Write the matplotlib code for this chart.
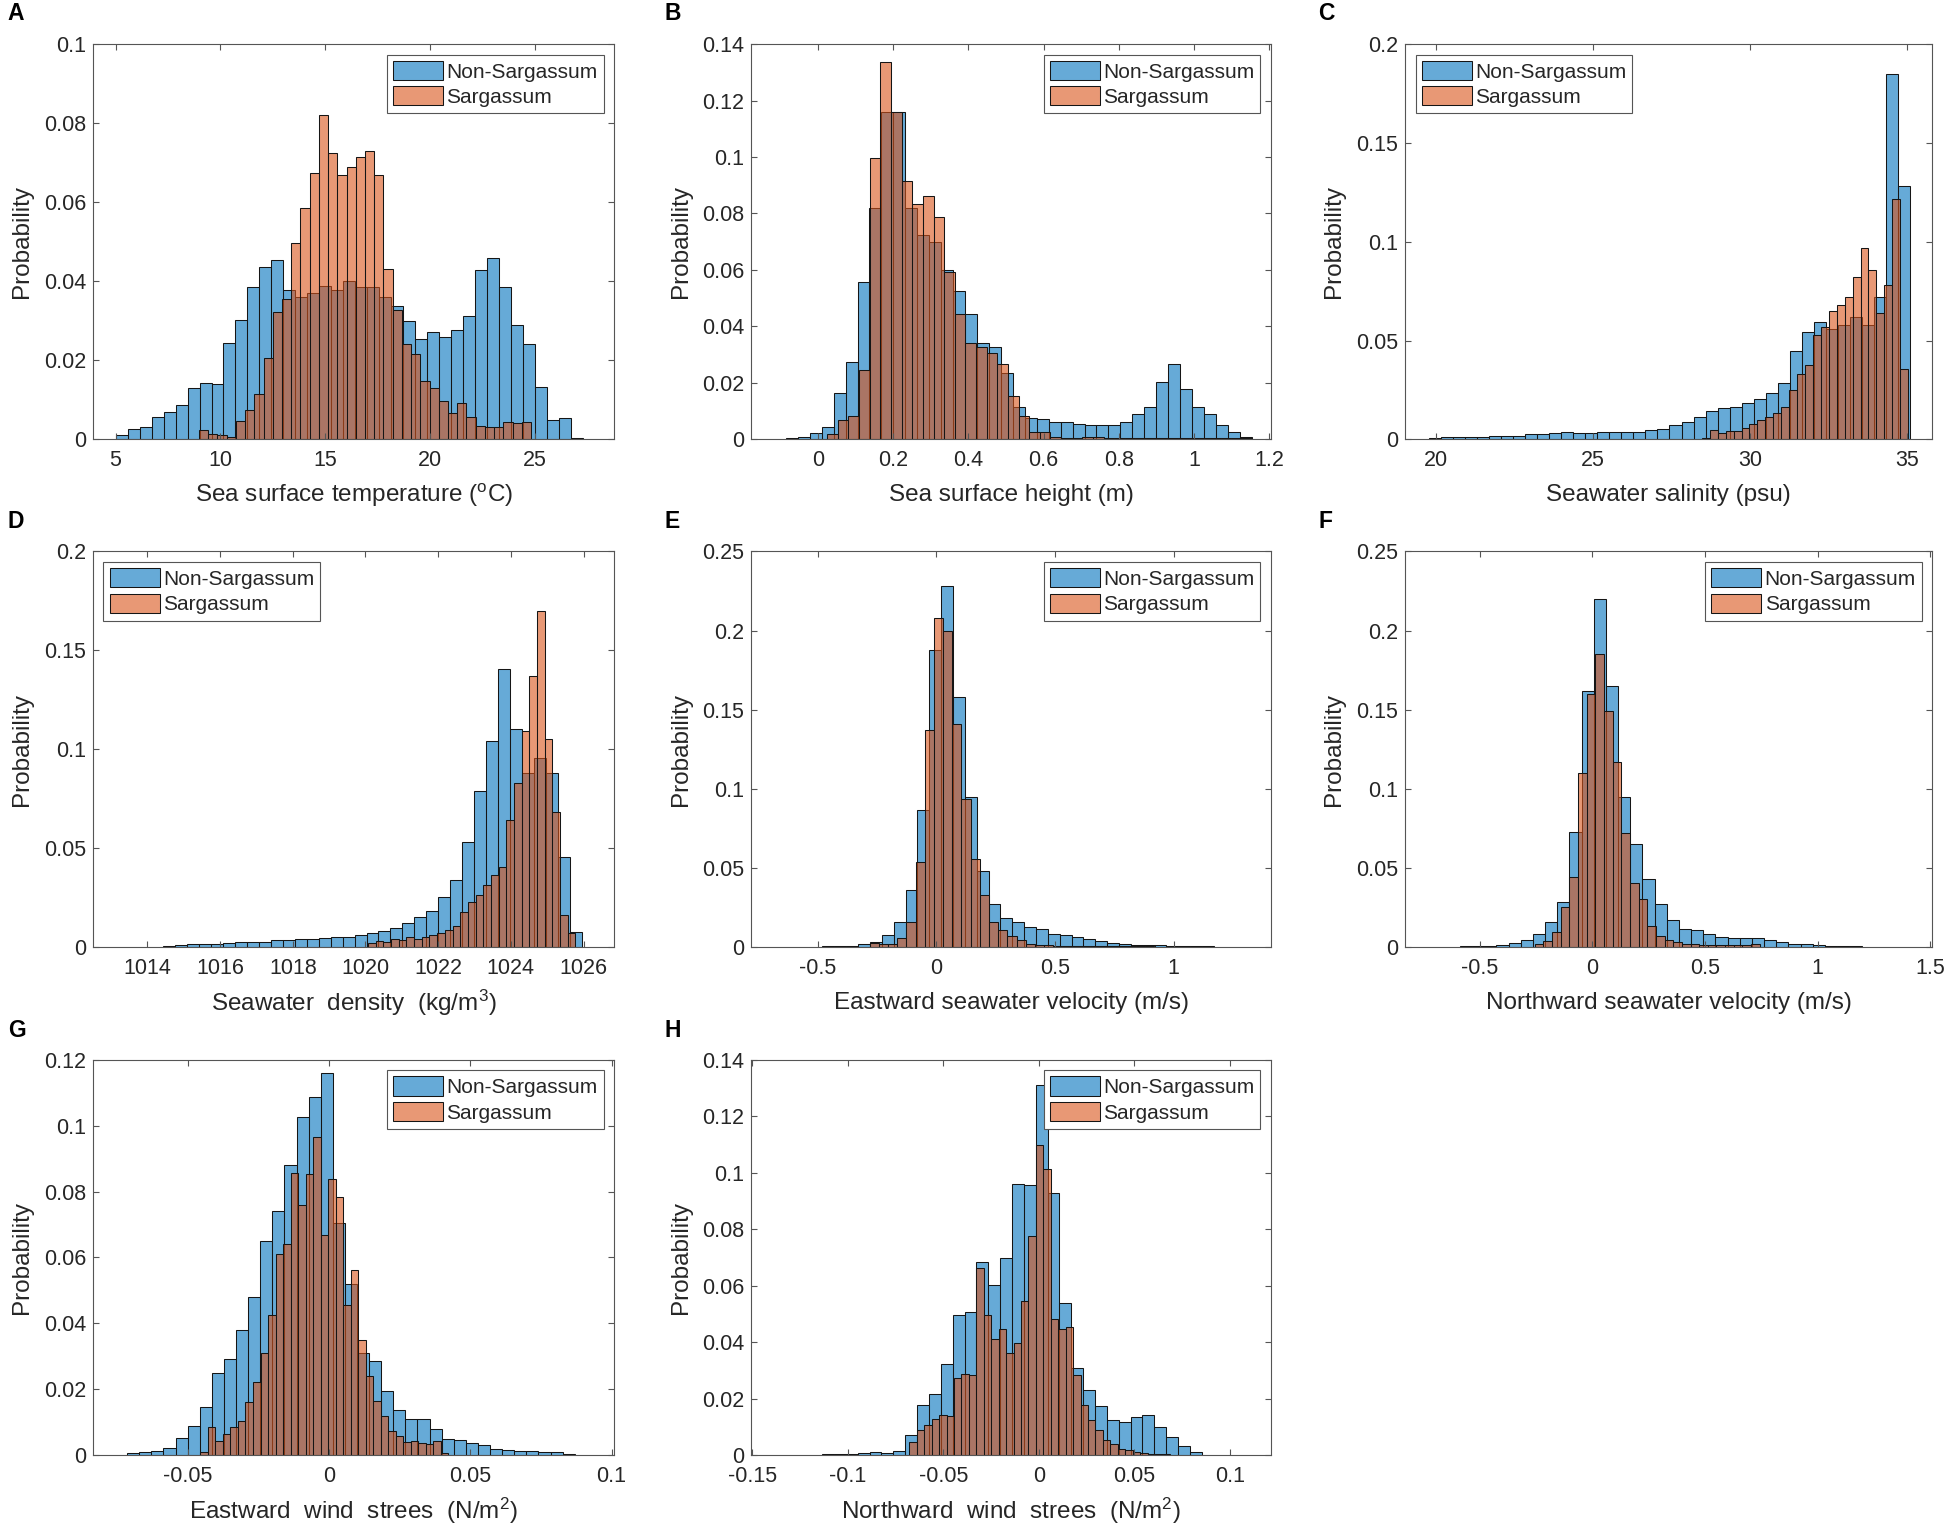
import numpy as np
import matplotlib.pyplot as plt
from matplotlib.ticker import FuncFormatter

plt.rcParams['font.family'] = ['Liberation Sans', 'DejaVu Sans']
plt.rcParams['mathtext.default'] = 'regular'

# ---- data: first bin edge, bin width, probability per bin ----
# A  sea surface temperature
sst_non_start, sst_non_width = 5.0, 0.572
sst_non = [0.001, 0.0025, 0.003, 0.0057, 0.007, 0.0087, 0.013, 0.0143, 0.014, 0.0243,
           0.0303, 0.0386, 0.0436, 0.0453, 0.0379, 0.036, 0.037, 0.0387, 0.0377, 0.040,
           0.0386, 0.0386, 0.036, 0.0337, 0.030, 0.0253, 0.0271, 0.0258, 0.0276, 0.0312,
           0.0428, 0.046, 0.0386, 0.029, 0.024, 0.0133, 0.005, 0.0054, 0.0003]
sst_sar_start, sst_sar_width = 8.98, 0.44
sst_sar = [0.0024, 0.0013, 0.0011, 0.0006, 0.0046, 0.0074, 0.0115, 0.0205, 0.0323, 0.0354,
           0.0497, 0.0586, 0.0674, 0.082, 0.0724, 0.067, 0.069, 0.0714, 0.073, 0.067,
           0.043, 0.0327, 0.024, 0.0217, 0.0148, 0.013, 0.0098, 0.0067, 0.0093, 0.0056,
           0.0034, 0.003, 0.0032, 0.0044, 0.0042, 0.0044]

# B  sea surface height
ssh_non_start, ssh_non_width = -0.086, 0.0318
ssh_non = [0.0004, 0.001, 0.0024, 0.0042, 0.0165, 0.0275, 0.0556, 0.0818, 0.116, 0.116,
           0.0818, 0.0724, 0.070, 0.060, 0.0527, 0.0443, 0.034, 0.0326, 0.0234, 0.0116,
           0.0074, 0.0071, 0.006, 0.006, 0.0053, 0.005, 0.005, 0.005, 0.006, 0.0089,
           0.0116, 0.0202, 0.0267, 0.018, 0.0116, 0.0089, 0.005, 0.0026, 0.0007]
ssh_sar_start, ssh_sar_width = 0.024, 0.0283
ssh_sar = [0.0018, 0.007, 0.0083, 0.0245, 0.0995, 0.1335, 0.116, 0.0916, 0.0833, 0.0863,
           0.0789, 0.0594, 0.0443, 0.0342, 0.0328, 0.0305, 0.0266, 0.0153, 0.0083, 0.0027,
           0.0025, 0.0008, 0.0005, 0.0005, 0.001, 0.0008, 0.0005, 0.0005, 0.0005, 0.0005,
           0.0005, 0.0005, 0.0005, 0.0005, 0.0005, 0.0005, 0.0005, 0.0005, 0.0005, 0.0003]

# C  seawater salinity
sal_non_start, sal_non_width = 19.77, 0.383
sal_non = [0.0008, 0.0012, 0.0012, 0.0012, 0.0012, 0.0017, 0.0017, 0.0017, 0.0025, 0.0025,
           0.003, 0.0035, 0.003, 0.003, 0.0035, 0.0035, 0.0035, 0.0035, 0.0047, 0.0052,
           0.0072, 0.0087, 0.0113, 0.0145, 0.0157, 0.0162, 0.0183, 0.0203, 0.0232, 0.0283,
           0.0445, 0.0545, 0.0592, 0.056, 0.058, 0.062, 0.058, 0.072, 0.185, 0.128]
sal_sar_start, sal_sar_width = 28.46, 0.2525
sal_sar = [0.0005, 0.0047, 0.003, 0.004, 0.004, 0.0055, 0.008, 0.010, 0.0115, 0.0135,
           0.0165, 0.025, 0.033, 0.0376, 0.053, 0.057, 0.065, 0.068, 0.072, 0.082,
           0.0966, 0.0855, 0.064, 0.078, 0.1215, 0.0354]

# D  seawater density
den_non_start, den_non_width = 1014.44, 0.3287
den_non = [0.0003, 0.0007, 0.0012, 0.0014, 0.0014, 0.0017, 0.0022, 0.0025, 0.0025, 0.0034,
           0.0034, 0.0037, 0.004, 0.0042, 0.0047, 0.0047, 0.006, 0.0068, 0.0081, 0.0093,
           0.0122, 0.0152, 0.018, 0.025, 0.034, 0.053, 0.079, 0.104, 0.1405, 0.11,
           0.088, 0.0955, 0.088, 0.0455, 0.0075]
den_sar_start, den_sar_width = 1020.07, 0.2113
den_sar = [0.0017, 0.003, 0.0025, 0.0038, 0.0035, 0.005, 0.004, 0.005, 0.006, 0.007,
           0.0085, 0.0105, 0.0175, 0.0225, 0.026, 0.031, 0.0365, 0.0405, 0.064, 0.083,
           0.109, 0.137, 0.17, 0.105, 0.068, 0.016, 0.007]

# E  eastward seawater velocity
u_non_start, u_non_width = -0.48, 0.05
u_non = [0.0004, 0.0006, 0.0006, 0.0015, 0.0032, 0.0074, 0.0158, 0.036, 0.0866, 0.188,
         0.228, 0.158, 0.0945, 0.048, 0.027, 0.0183, 0.0158, 0.0122, 0.011, 0.008,
         0.0074, 0.0063, 0.0046, 0.0034, 0.0023, 0.0017, 0.0013, 0.001, 0.0008, 0.0006,
         0.0004, 0.0004, 0.0002]
u_sar_start, u_sar_width = -0.281, 0.0387
u_sar = [0.0025, 0.002, 0.0015, 0.0053, 0.0158, 0.0533, 0.137, 0.208, 0.2, 0.141,
         0.0935, 0.0555, 0.0325, 0.0158, 0.0105, 0.0068, 0.004, 0.0017, 0.0012, 0.0008,
         0.0006, 0.0004, 0.0004, 0.0004, 0.0004, 0.0004, 0.0004, 0.0004, 0.0004, 0.0004,
         0.0004]

# F  northward seawater velocity
v_non_start, v_non_width = -0.587, 0.054
v_non = [0.0003, 0.0004, 0.0006, 0.001, 0.0022, 0.004, 0.008, 0.0155, 0.0285, 0.0725,
         0.162, 0.22, 0.165, 0.0946, 0.065, 0.043, 0.027, 0.0167, 0.011, 0.0104,
         0.008, 0.0063, 0.0058, 0.0054, 0.0054, 0.004, 0.0027, 0.002, 0.0017, 0.0008,
         0.0006, 0.0004, 0.0003]
v_sar_start, v_sar_width = -0.255, 0.0384
v_sar = [0.002, 0.0035, 0.0095, 0.025, 0.044, 0.11, 0.16, 0.185, 0.149, 0.117,
         0.072, 0.040, 0.030, 0.013, 0.007, 0.004, 0.003, 0.002, 0.0015, 0.0012,
         0.001, 0.001, 0.001, 0.0008, 0.0008, 0.0015]

# G  eastward wind stress
tx_non_start, tx_non_width = -0.0714, 0.00428
tx_non = [0.0005, 0.0008, 0.0012, 0.0022, 0.0053, 0.0088, 0.0145, 0.025, 0.0292, 0.038,
          0.048, 0.065, 0.074, 0.088, 0.1025, 0.1088, 0.116, 0.0705, 0.052, 0.031,
          0.0285, 0.0195, 0.0138, 0.0108, 0.011, 0.0078, 0.005, 0.0047, 0.0038, 0.003,
          0.0017, 0.0015, 0.0013, 0.0012, 0.001, 0.0008, 0.0003]
tx_sar_start, tx_sar_width = -0.0455, 0.00266
tx_sar = [0.0008, 0.0086, 0.0043, 0.0064, 0.0084, 0.0103, 0.016, 0.0222, 0.0311, 0.0424,
          0.0611, 0.064, 0.0857, 0.0758, 0.0852, 0.0965, 0.0667, 0.0838, 0.0783, 0.0455,
          0.0562, 0.0348, 0.0239, 0.0164, 0.0119, 0.0074, 0.0059, 0.004, 0.0044, 0.0038,
          0.0033, 0.0043, 0.0005]

# H  northward wind stress
ty_non_start, ty_non_width = -0.1134, 0.00621
ty_non = [0.0003, 0.0004, 0.0005, 0.0008, 0.001, 0.0008, 0.0015, 0.007, 0.0178, 0.0215,
          0.0322, 0.0497, 0.0508, 0.0683, 0.0602, 0.0698, 0.096, 0.0955, 0.1312, 0.0928,
          0.0538, 0.0307, 0.0232, 0.0172, 0.0123, 0.0118, 0.0136, 0.0143, 0.01, 0.0063,
          0.0033, 0.001]
ty_sar_start, ty_sar_width = -0.0678, 0.0039
ty_sar = [0.0045, 0.009, 0.0105, 0.0128, 0.0143, 0.0138, 0.0273, 0.0288, 0.0283, 0.0662,
          0.0497, 0.0412, 0.0448, 0.0363, 0.0397, 0.0545, 0.0775, 0.11, 0.1013, 0.0482,
          0.0448, 0.0452, 0.0285, 0.0178, 0.0123, 0.0088, 0.0052, 0.0038, 0.0023, 0.0018,
          0.001, 0.0006, 0.0004, 0.0004, 0.0003]

panels = [
    ('A', (sst_non_start, sst_non_width, sst_non), (sst_sar_start, sst_sar_width, sst_sar),
     'Sea surface temperature ($^{o}$C)', (3.92, 28.8), [5, 10, 15, 20, 25], 0.1, 0.02, 'upper right'),
    ('B', (ssh_non_start, ssh_non_width, ssh_non), (ssh_sar_start, ssh_sar_width, ssh_sar),
     'Sea surface height (m)', (-0.178, 1.205), [0, 0.2, 0.4, 0.6, 0.8, 1, 1.2], 0.14, 0.02, 'upper right'),
    ('C', (sal_non_start, sal_non_width, sal_non), (sal_sar_start, sal_sar_width, sal_sar),
     'Seawater salinity (psu)', (19.02, 35.8), [20, 25, 30, 35], 0.2, 0.05, 'upper left'),
    ('D', (den_non_start, den_non_width, den_non), (den_sar_start, den_sar_width, den_sar),
     'Seawater  density  (kg/m$^3$)', (1012.5, 1026.85), [1014, 1016, 1018, 1020, 1022, 1024, 1026], 0.2, 0.05, 'upper left'),
    ('E', (u_non_start, u_non_width, u_non), (u_sar_start, u_sar_width, u_sar),
     'Eastward seawater velocity (m/s)', (-0.78, 1.41), [-0.5, 0, 0.5, 1], 0.25, 0.05, 'upper right'),
    ('F', (v_non_start, v_non_width, v_non), (v_sar_start, v_sar_width, v_sar),
     'Northward seawater velocity (m/s)', (-0.83, 1.51), [-0.5, 0, 0.5, 1, 1.5], 0.25, 0.05, 'upper right'),
    ('G', (tx_non_start, tx_non_width, tx_non), (tx_sar_start, tx_sar_width, tx_sar),
     'Eastward  wind  strees  (N/m$^2$)', (-0.0835, 0.101), [-0.05, 0, 0.05, 0.1], 0.12, 0.02, 'upper right'),
    ('H', (ty_non_start, ty_non_width, ty_non), (ty_sar_start, ty_sar_width, ty_sar),
     'Northward  wind  strees  (N/m$^2$)', (-0.1505, 0.1215), [-0.15, -0.1, -0.05, 0, 0.05, 0.1], 0.14, 0.02, 'upper right'),
]

blue = (0.0, 0.447, 0.741, 0.6)
orange = (0.85, 0.325, 0.098, 0.6)
axis_grey = '#555555'
text_grey = '#262626'

col_left = [0.0476, 0.3847, 0.7195]
col_width = [0.267, 0.266, 0.270]
row_bottom = [0.7121, 0.3796, 0.0465]
row_height = 0.259
letter_x = [0.004, 0.340, 0.675]
letter_y = [0.991, 0.658, 0.325]

fig = plt.figure(figsize=(19.53, 15.26), dpi=100)
fmt = FuncFormatter(lambda v, p: f'{v:g}')

for i, (letter, non, sar, xlabel, xlim, xticks, ymax, ystep, loc) in enumerate(panels):
    r, c = divmod(i, 3)
    ax = fig.add_axes([col_left[c], row_bottom[r], col_width[c], row_height])
    for (start, width, vals), color, label in [(non, blue, 'Non-Sargassum'), (sar, orange, 'Sargassum')]:
        edges = start + width * np.arange(len(vals) + 1)
        ax.bar(edges[:-1], vals, width=np.diff(edges), align='edge', color=color,
               edgecolor='#151515', linewidth=0.75, label=label)
    ax.set_xlim(*xlim)
    ax.set_ylim(0, ymax)
    ax.set_xticks(xticks)
    ax.set_yticks(np.arange(0, ymax + ystep / 2, ystep))
    ax.xaxis.set_major_formatter(fmt)
    ax.yaxis.set_major_formatter(fmt)
    ax.tick_params(direction='in', top=True, right=True, length=4, width=0.8,
                   labelsize=15.5, colors=axis_grey, labelcolor=text_grey)
    ax.tick_params(axis='x', pad=8)
    ax.tick_params(axis='y', pad=5)
    for s in ax.spines.values():
        s.set_color(axis_grey)
        s.set_linewidth(0.8)
    ax.set_xlabel(xlabel, fontsize=17.5, color=text_grey, va='center')
    ax.xaxis.set_label_coords(0.5, -0.142)
    ax.set_ylabel('Probability', fontsize=17.5, color=text_grey)
    ax.yaxis.set_label_coords(-0.115, 0.5)
    leg = ax.legend(loc=loc, fontsize=15, fancybox=False, framealpha=1,
                    edgecolor=axis_grey, borderaxespad=0.5, borderpad=0.3,
                    labelspacing=0.22, handlelength=2.4, handleheight=1.05,
                    handletextpad=0.15)
    leg.get_frame().set_linewidth(0.8)
    for t in leg.get_texts():
        t.set_color(text_grey)
    fig.text(letter_x[c], letter_y[r], letter, fontsize=16.5, fontweight='bold',
             ha='left', va='center')

fig.savefig('out.png', dpi=100)
